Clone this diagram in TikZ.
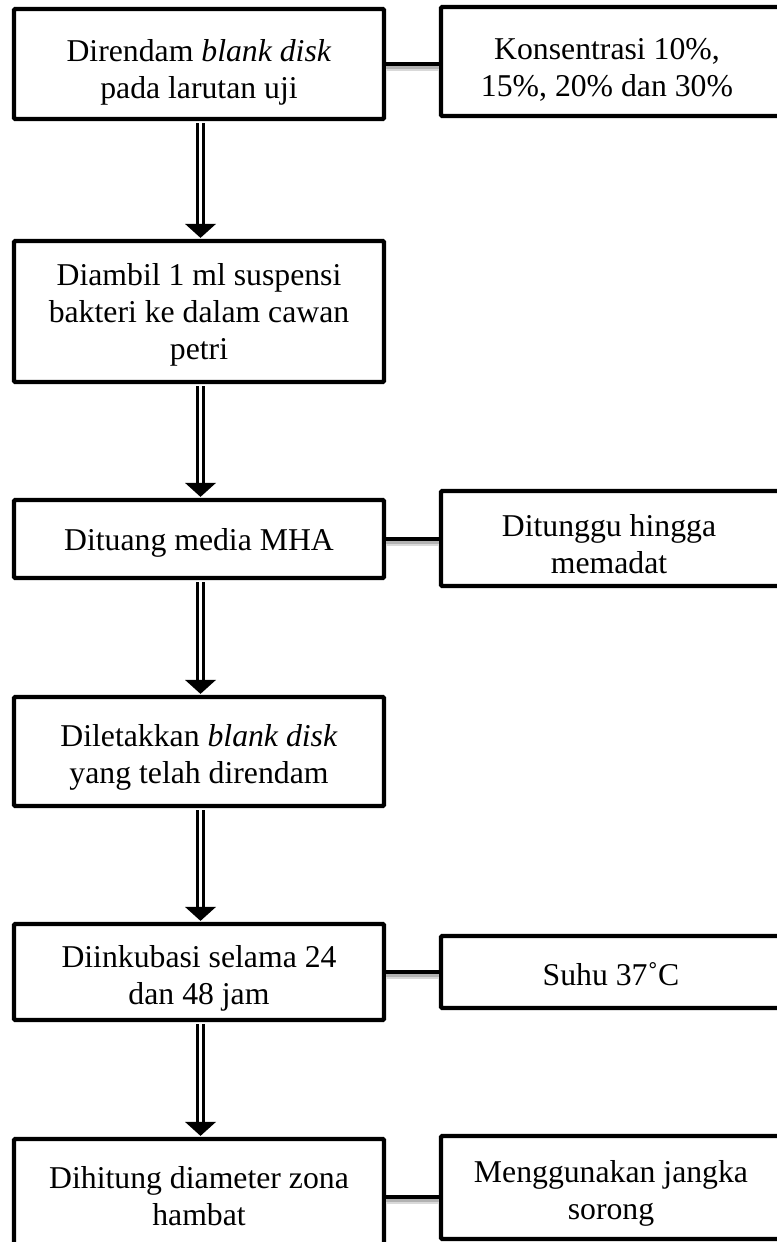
\documentclass[tikz,border=0pt]{standalone}
\usepackage{fontspec}
\setmainfont{Liberation Serif}
\usetikzlibrary{calc}
\tikzset{
  stepbox/.style={draw, rectangle, line width=3.2pt, inner sep=0pt, rounded corners=0.8pt},
  leftbox/.style={stepbox, minimum width=277.5pt},
  notebox/.style={stepbox, minimum width=258pt},
  boxtext/.style={align=center, inner sep=0pt, font=\fontsize{23.8}{27.8}\selectfont},
  shaft/.style={draw=black, line width=2pt, double=white, double distance=2.25pt},
  link/.style={line width=3.3pt},
  linkshade/.style={line width=5pt, gray!30},
  linkshadeinner/.style={line width=2.2pt, gray!60},
}
\begin{document}
\begin{tikzpicture}[x=0.75pt,y=-0.75pt]
\useasboundingbox (0,0) rectangle (776,1242);

% main steps
\node[leftbox, minimum height=82.5pt]   (b1) at (199,64)    {};
\node[leftbox, minimum height=105.75pt] (b2) at (199,311.5) {};
\node[leftbox, minimum height=58.5pt]   (b3) at (199,539)   {};
\node[leftbox, minimum height=81.75pt]  (b4) at (199,751.5) {};
\node[leftbox, minimum height=72pt]     (b5) at (199,972)   {};
\node[leftbox, minimum height=87pt]     (b6) at (199,1197)  {};

\node[boxtext] (t1) at ($(b1.center)+(0,8)$)  {Direndam \textit{blank disk}\\pada larutan uji};
\node[boxtext] (t2) at ($(b2.center)+(0,3)$)  {Diambil 1 ml suspensi\\bakteri ke dalam cawan\\petri};
\node[boxtext] (t3) at ($(b3.center)+(0,4)$)  {Dituang media MHA};
\node[boxtext] (t4) at ($(b4.center)+(0,6)$)  {Diletakkan \textit{blank disk}\\yang telah direndam};
\node[boxtext] (t5) at ($(b5.center)+(0,6)$)  {Diinkubasi selama 24\\dan 48 jam};
\node[boxtext] (t6) at ($(b6.center)+(0,-1)$) {Dihitung diameter zona\\hambat};

% side notes
\node[notebox, minimum height=81.75pt] (r1) at (613,61.5)   {};
\node[notebox, minimum height=71.25pt] (r3) at (613,538.5)  {};
\node[notebox, minimum height=54pt]    (r5) at (613,972)    {};
\node[notebox, minimum height=77.25pt] (r6) at (613,1187.5) {};

\node[boxtext] (s1) at ($(r1.center)+(-6,8)$) {Konsentrasi 10\%,\\15\%, 20\% dan 30\%};
\node[boxtext] (s3) at ($(r3.center)+(-4,6)$) {Ditunggu hingga\\memadat};
\node[boxtext] (s5) at ($(r5.center)+(-2,2)$) {Suhu 37˚C};
\node[boxtext] (s6) at ($(r6.center)+(-2,6)$) {Menggunakan jangka\\sorong};

% connectors to the side notes, with a soft shadow
\foreach \a/\b in {b1/r1, b3/r3, b5/r5, b6/r6} {
  \draw[linkshade] ($(\a.east)+(0,4)$) -- ($(\a.east -| \b.west)+(0,4)$);
  \draw[linkshadeinner] ($(\a.east)+(0,3.5)$) -- ($(\a.east -| \b.west)+(0,3.5)$);
  \draw[link] (\a.east) -- (\a.east -| \b.west);
}

% double-line arrows between the steps
\foreach \a/\b in {b1/b2, b2/b3, b3/b4, b4/b5, b5/b6} {
  \draw[shaft] ($(\a.south)+(1.5,2)$) -- ($(\b.north)+(1.5,-12)$);
  \fill ($(\b.north)+(-14,-15)$) -- ($(\b.north)+(17,-15)$) -- ($(\b.north)+(1.5,-1)$) -- cycle;
}
\end{tikzpicture}
\end{document}
